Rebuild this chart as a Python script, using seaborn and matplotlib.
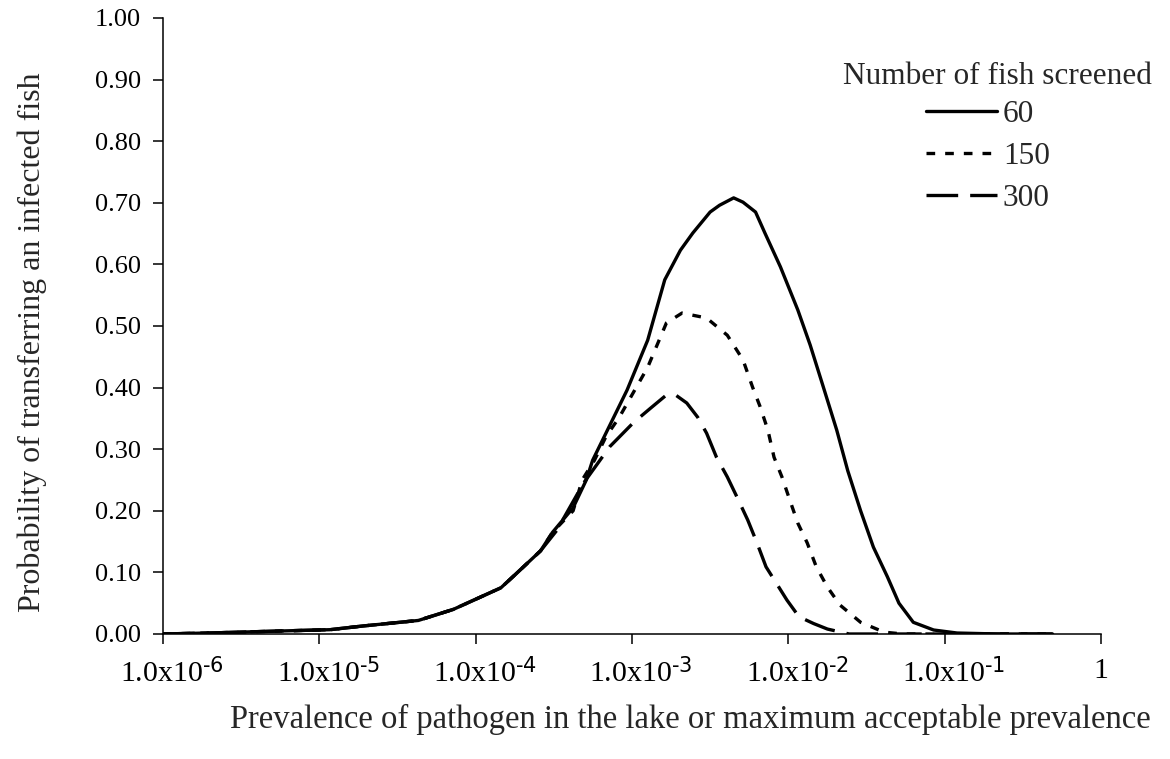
import matplotlib
matplotlib.use("Agg")
import matplotlib.pyplot as plt
import matplotlib.transforms as mtransforms
import pandas as pd
import seaborn as sns
from matplotlib.ticker import NullLocator

# ---- data ----
prev_60 = [1.0e-6, 2.24e-6, 5.9e-6, 1.17e-5, 1.9e-5, 4.3e-5, 7.2e-5, 1.45e-4, 1.8e-4,
           2.6e-4, 3.1e-4, 4.2e-4, 5.1e-4, 5.6e-4, 9.3e-4, 1.26e-3, 1.62e-3, 2.04e-3,
           2.45e-3, 3.16e-3, 3.63e-3, 4.47e-3, 5.13e-3, 6.17e-3, 7.08e-3, 8.9e-3,
           1.15e-2, 1.38e-2, 1.66e-2, 2.04e-2, 2.4e-2, 2.9e-2, 3.5e-2, 4.3e-2, 5.1e-2,
           6.3e-2, 8.5e-2, 0.12, 0.22, 0.49]
prob_60 = [0.0, 0.002, 0.005, 0.007, 0.013, 0.022, 0.040, 0.075, 0.097,
           0.135, 0.165, 0.205, 0.250, 0.282, 0.396, 0.477, 0.575, 0.623,
           0.651, 0.685, 0.696, 0.708, 0.701, 0.685, 0.651, 0.596,
           0.526, 0.469, 0.404, 0.331, 0.265, 0.200, 0.141, 0.093, 0.050,
           0.019, 0.0065, 0.0016, 0.0, 0.0]

prev_150 = [1.0e-6, 2.24e-6, 5.9e-6, 1.17e-5, 1.9e-5, 4.3e-5, 7.2e-5, 1.45e-4, 1.8e-4,
            2.6e-4, 3.1e-4, 4.2e-4, 4.8e-4, 5.75e-4, 6.8e-4, 8.3e-4, 1.26e-3, 1.66e-3,
            2.09e-3, 3.0e-3, 4.07e-3, 5.13e-3, 5.9e-3, 6.6e-3, 7.4e-3, 8.1e-3, 9.1e-3,
            1.02e-2, 1.15e-2, 1.32e-2, 1.51e-2, 1.78e-2, 2.14e-2, 2.9e-2, 4.1e-2,
            5.4e-2, 0.49]
prob_150 = [0.0, 0.002, 0.005, 0.007, 0.013, 0.022, 0.040, 0.075, 0.097,
            0.135, 0.165, 0.200, 0.250, 0.282, 0.320, 0.352, 0.433, 0.505,
            0.521, 0.513, 0.485, 0.445, 0.401, 0.369, 0.331, 0.287, 0.255,
            0.218, 0.180, 0.148, 0.109, 0.076, 0.047, 0.019, 0.003,
            0.0, 0.0]

prev_300 = [1.0e-6, 2.24e-6, 5.9e-6, 1.17e-5, 1.9e-5, 4.3e-5, 7.2e-5, 1.45e-4, 1.8e-4,
            2.6e-4, 3.3e-4, 4.9e-4, 7.2e-4, 1.02e-3, 1.32e-3, 1.66e-3, 1.9e-3, 2.24e-3,
            2.63e-3, 3.0e-3, 3.47e-3, 4.07e-3, 4.7e-3, 5.5e-3, 6.3e-3, 7.2e-3, 8.5e-3,
            9.8e-3, 1.17e-2, 1.45e-2, 1.78e-2, 2.45e-2, 0.49]
prob_300 = [0.0, 0.002, 0.005, 0.007, 0.013, 0.022, 0.040, 0.075, 0.097,
            0.135, 0.168, 0.245, 0.304, 0.343, 0.367, 0.388, 0.388, 0.375,
            0.352, 0.326, 0.287, 0.255, 0.222, 0.185, 0.148, 0.109, 0.080,
            0.055, 0.028, 0.017, 0.008, 0.0, 0.0]

series_names = ["60", "150", "300"]
legend_title = "Number of fish screened"
x_ticks = [1e-6, 1e-5, 1e-4, 1e-3, 1e-2, 1e-1, 1]
x_tick_labels = [r"1.0x10$^{\text{-6}}$", r"1.0x10$^{\text{-5}}$", r"1.0x10$^{\text{-4}}$",
                 r"1.0x10$^{\text{-3}}$", r"1.0x10$^{\text{-2}}$", r"1.0x10$^{\text{-1}}$", "1"]
y_ticks = [0.0, 0.1, 0.2, 0.3, 0.4, 0.5, 0.6, 0.7, 0.8, 0.9, 1.0]
y_tick_labels = ["%.2f" % v for v in y_ticks]

frames = []
for name, xs, ys in zip(series_names, [prev_60, prev_150, prev_300],
                        [prob_60, prob_150, prob_300]):
    frames.append(pd.DataFrame({"prev": xs, "prob": ys, "n": name}))
df = pd.concat(frames, ignore_index=True)

# ---- style ----
sns.set_style("ticks")
plt.rcParams["font.family"] = ["Liberation Serif", "DejaVu Serif"]
plt.rcParams["mathtext.default"] = "regular"
plt.rcParams["font.size"] = 19

fig = plt.figure(figsize=(11.7, 7.59), dpi=100)
ax = fig.add_axes([163 / 1170, 1 - 634 / 759, (1101 - 163) / 1170, 616 / 759])

sns.lineplot(data=df, x="prev", y="prob", style="n", style_order=series_names,
             dashes={"60": "", "150": (2.6, 3.0), "300": (9.5, 3.6)},
             color="black", lw=2.4, ax=ax, legend=False, estimator=None)

ax.set_xscale("log")
ax.set_xlim(1e-6, 1)
ax.set_ylim(0, 1)
ax.set_xticks(x_ticks)
ax.set_xticklabels(x_tick_labels)
ax.xaxis.set_minor_locator(NullLocator())
ax.set_yticks(y_ticks)
ax.set_yticklabels(y_tick_labels)

for s in ["top", "right"]:
    ax.spines[s].set_visible(False)
for s in ["left", "bottom"]:
    ax.spines[s].set_linewidth(1.1)
    ax.spines[s].set_color("black")

ax.tick_params(axis="both", direction="out", length=7, width=1.1, colors="black")
ax.tick_params(axis="x", pad=10.5, labelsize=21.5)
ax.tick_params(axis="y", pad=9, labelsize=19)

# Excel-style: centre the base text under the tick, exponent hangs to the right
shift = mtransforms.ScaledTranslation(9 / 100, 0, fig.dpi_scale_trans)
for lab in ax.get_xticklabels():
    if "$" in lab.get_text():
        lab.set_transform(lab.get_transform() + shift)

ax.set_xlabel("Prevalence of pathogen in the lake or maximum acceptable prevalence",
              fontsize=23.5)
ax.set_ylabel("Probability of transferring an infected fish", fontsize=23)
ax.xaxis.set_label_coords((690 - 163) / 938, (634 - 704) / 616)
ax.yaxis.set_label_coords((47 - 163) / 938, (634 - 342) / 616)

handles = ax.lines[:3]
leg = ax.legend(handles, series_names, loc="upper left",
                bbox_to_anchor=(926 / 1170, 1 - 100 / 759),
                bbox_transform=fig.transFigure, frameon=False, fontsize=22.5,
                handlelength=2.27, handletextpad=0.19, labelspacing=0.42,
                borderaxespad=0, borderpad=0)
fig.text(997 / 1170, 1 - 76 / 759, legend_title, ha="center", va="center",
         fontsize=22.5)

fig.savefig("out.png", dpi=100)
